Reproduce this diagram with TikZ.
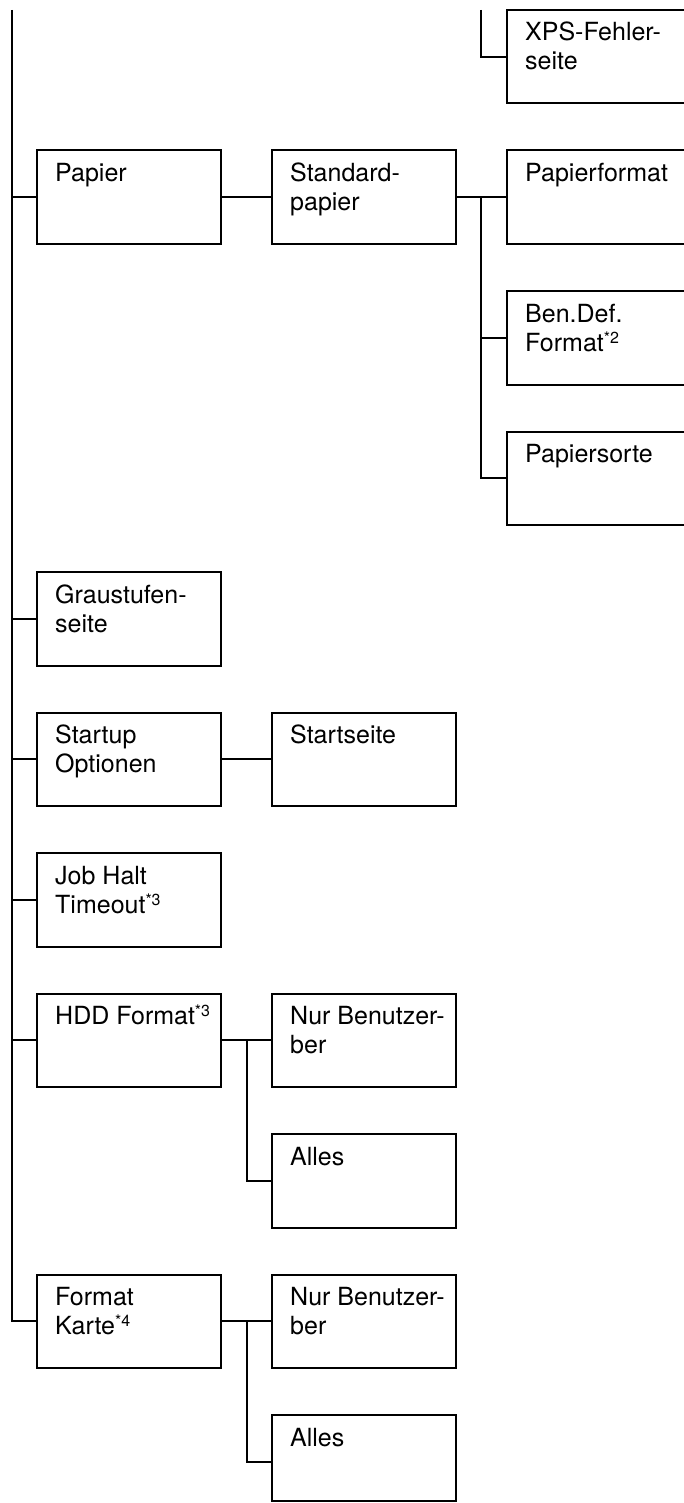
\documentclass[tikz,border=0pt]{standalone}
\usepackage{fontspec}
\setmainfont{TeX Gyre Heros}
% small raised footnote marker after a menu entry
\newcommand\fnmark[1]{\raisebox{8pt}{\fontsize{16}{16}\selectfont #1}}
\begin{document}
\begin{tikzpicture}[x=1pt,y=-1pt,
  mbox/.style={draw, line width=2pt, minimum width=184pt, minimum height=93.5pt,
               anchor=north west, inner sep=0pt, outer sep=0pt},
  mtext/.style={anchor=base west, inner sep=0pt, font=\fontsize{25}{29}\selectfont},
  link/.style={line width=2pt}]
\useasboundingbox (0,0) rectangle (684,1503);
\clip (0,0) rectangle (684,1503);

% menu boxes: column 1 at x=37, column 2 at x=272, column 3 at x=507
\node[mbox] (xps)     at (507,10)    {};
\node[mbox] (papier)  at (37,150.5)  {};
\node[mbox] (std)     at (272,150.5) {};
\node[mbox] (pformat) at (507,150.5) {};
\node[mbox] (bendef)  at (507,291)   {};
\node[mbox] (psorte)  at (507,431.5) {};
\node[mbox] (grau)    at (37,572)    {};
\node[mbox] (startup) at (37,712.5)  {};
\node[mbox] (startp)  at (272,712.5) {};
\node[mbox] (jobhalt) at (37,853)    {};
\node[mbox] (hdd)     at (37,993.5)  {};
\node[mbox] (nura)    at (272,993.5) {};
\node[mbox] (allesa)  at (272,1134)  {};
\node[mbox] (karte)   at (37,1274.5) {};
\node[mbox] (nurb)    at (272,1274.5){};
\node[mbox, minimum height=86pt] (allesb) at (272,1415) {};

% entry labels
\foreach \b/\t in {xps/{XPS-Fehler-\\seite}, papier/{Papier}, std/{Standard-\\papier},
    pformat/{Papierformat}, bendef/{Ben.Def.\\Format\fnmark{*2}}, psorte/{Papiersorte},
    grau/{Graustufen-\\seite}, startup/{Startup\\Optionen}, startp/{Startseite},
    jobhalt/{Job Halt\\Timeout\fnmark{*3}}, hdd/{HDD Format\fnmark{*3}},
    nura/{Nur Benutzer-\\ber}, allesa/{Alles}, karte/{Format\\Karte\fnmark{*4}},
    nurb/{Nur Benutzer-\\ber}, allesb/{Alles}}
  \node[mtext] (\b-t) at ([shift={(18pt,-31pt)}]\b.north west)
    {\parbox[t]{170pt}{\raggedright \t}};

% trunk lines
\coordinate (trunk) at (12,10);
\coordinate (xtrunk) at (481,10);
\coordinate (ptrunk) at (481,0);
\coordinate (htrunk) at (247,0);
\coordinate (allesb-in) at ([yshift=-47pt]allesb.north west);

\draw[link] (trunk) |- (karte.west);
\foreach \b in {papier,grau,startup,jobhalt,hdd}
  \draw[link] (trunk |- \b.west) -- (\b.west);

\draw[link] (xtrunk) |- (xps.west);

\draw[link] (papier.east) -- (std.west);
\draw[link] (std.east) -- (pformat.west);
\draw[link] (pformat.west -| ptrunk) |- (psorte.west);
\draw[link] (bendef.west -| ptrunk) -- (bendef.west);

\draw[link] (startup.east) -- (startp.west);

\draw[link] (hdd.east) -- (nura.west);
\draw[link] (nura.west -| htrunk) |- (allesa.west);

\draw[link] (karte.east) -- (nurb.west);
\draw[link] (nurb.west -| htrunk) |- (allesb-in);
\end{tikzpicture}
\end{document}
